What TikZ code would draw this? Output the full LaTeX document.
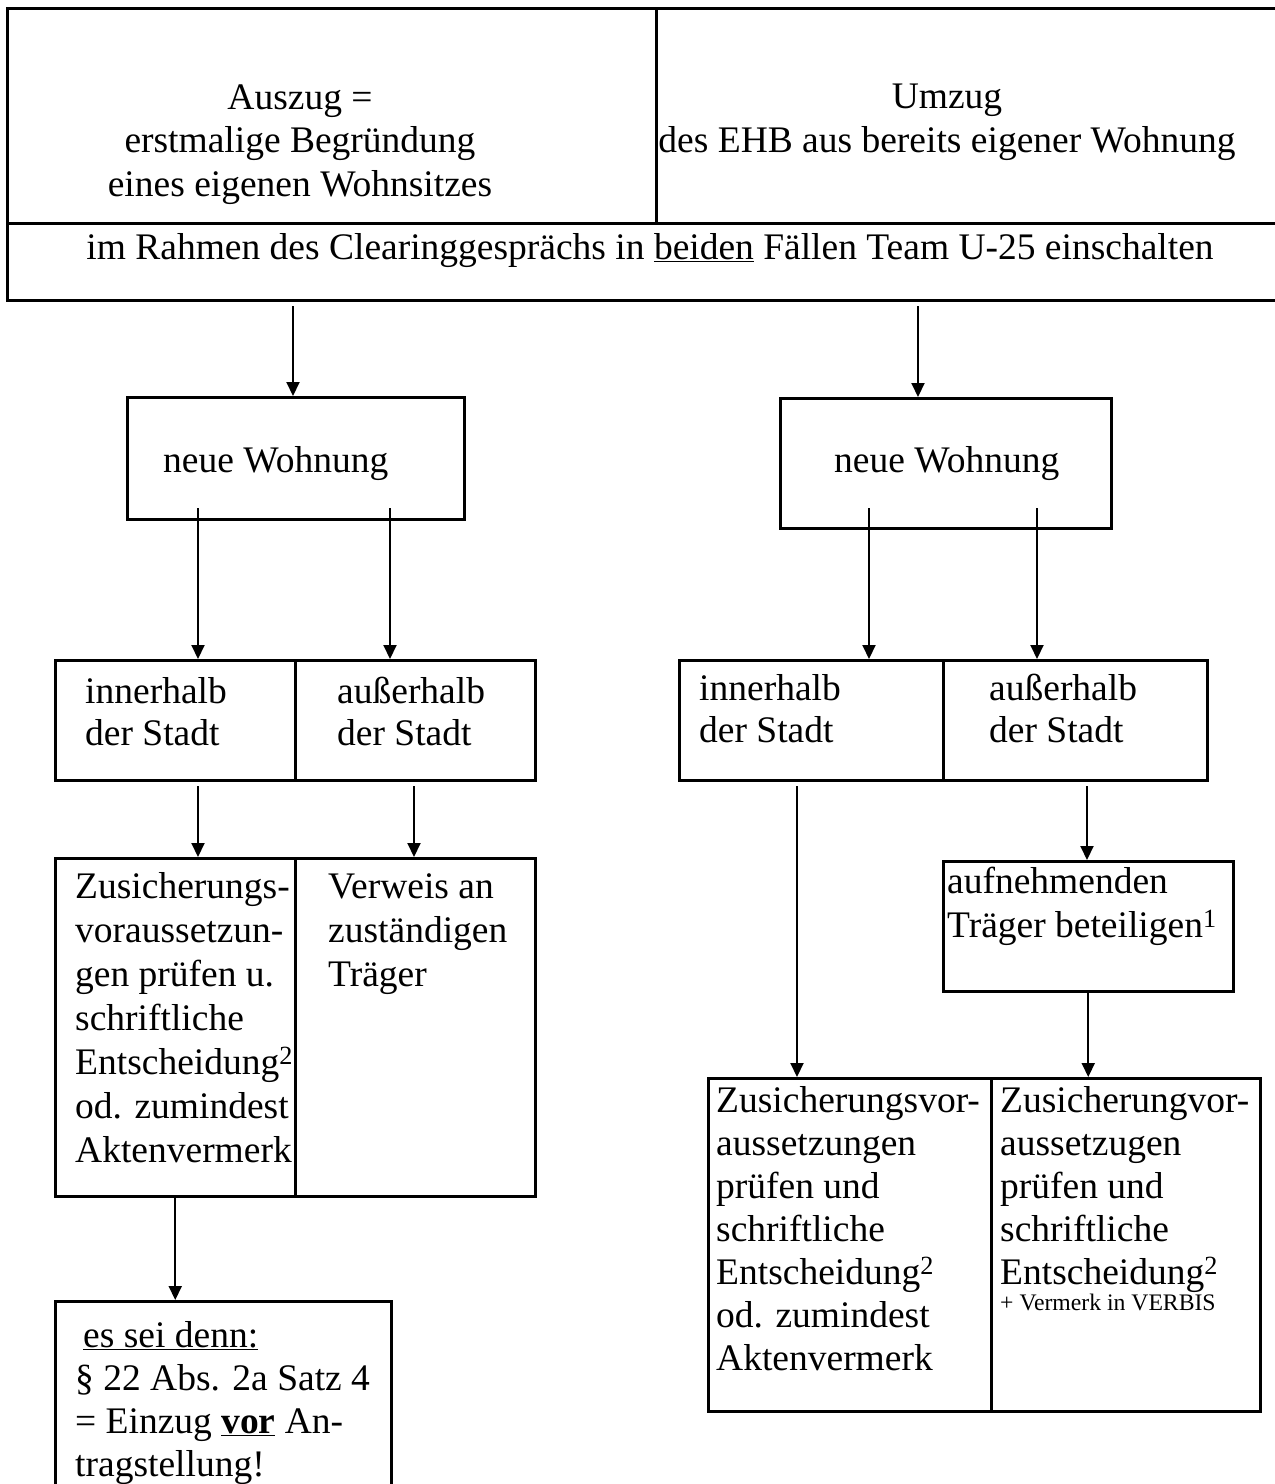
\documentclass[tikz,border=0pt]{standalone}
\usepackage{fontspec}
\setmainfont{Liberation Serif}
\usetikzlibrary{arrows.meta}
\usetikzlibrary{positioning}

\begin{document}
\begin{tikzpicture}[x=1pt,y=-1pt,
    box/.style={draw,line width=2.5pt,anchor=north west,inner sep=0pt},
    txt/.style={anchor=base west,align=left,inner sep=0pt},
    arr/.style={-{Triangle[length=14pt,width=13pt]},line width=2pt}]
\useasboundingbox (0,0) rectangle (1275,1484);

% Kopf (Textknoten sitzen auf der Grundlinie der letzten Zeile)
\node[box,line width=3pt,minimum width=649pt,minimum height=215pt] (auszug) at (6,7) {};
\node[box,line width=3pt,minimum width=640pt,minimum height=215pt] (umzug) at (655,7) {};
\node[box,line width=3pt,minimum width=1289pt,minimum height=77pt] (rahmen) at (6,222) {};
\node[txt,anchor=base,align=center,font=\fontsize{37.5}{43.5}\selectfont] (t-auszug) at (300,196)
    {Auszug =\\erstmalige Begründung\\eines eigenen Wohnsitzes};
\node[txt,anchor=base,align=center,font=\fontsize{37.5}{43.5}\selectfont] (t-umzug) at (947,152)
    {Umzug\\des EHB aus bereits eigener Wohnung};
\node[txt,anchor=base,align=center,font=\fontsize{37.5}{43.5}\selectfont] (t-rahmen) at (650,259)
    {im Rahmen des Clearinggesprächs in \underline{beiden} Fällen Team U-25 einschalten};

% neue Wohnung
\node[box,minimum width=337pt,minimum height=122pt] (nwL) at (126,396) {};
\node[box,minimum width=331pt,minimum height=130pt] (nwR) at (779,397) {};
\node[txt,font=\fontsize{37.5}{43}\selectfont] (t-nwL) at (163,472) {neue Wohnung};
\node[txt,font=\fontsize{37.5}{43}\selectfont] (t-nwR) at (834,472) {neue Wohnung};

% innerhalb / ausserhalb
\node[box,minimum width=240pt,minimum height=120pt] (innerL) at (54,659) {};
\node[box,minimum width=240pt,minimum height=120pt] (ausserL) at (294,659) {};
\node[box,minimum width=264pt,minimum height=120pt] (innerR) at (678,659) {};
\node[box,minimum width=264pt,minimum height=120pt] (ausserR) at (942,659) {};
\node[txt,font=\fontsize{37.5}{42}\selectfont] (t-innerL) at (85,745) {innerhalb\\der Stadt};
\node[txt,font=\fontsize{37.5}{42}\selectfont] (t-ausserL) at (337,745) {außerhalb\\der Stadt};
\node[txt,font=\fontsize{37.5}{42}\selectfont] (t-innerR) at (699,742) {innerhalb\\der Stadt};
\node[txt,font=\fontsize{37.5}{42}\selectfont] (t-ausserR) at (989,742) {außerhalb\\der Stadt};

% links unten
\node[box,minimum width=240pt,minimum height=338pt] (zusL) at (54,857) {};
\node[box,minimum width=240pt,minimum height=338pt] (verweis) at (294,857) {};
\node[box,minimum width=336pt,minimum height=220pt] (essei) at (54,1300) {};
\node[txt,font=\fontsize{37.5}{44}\selectfont] (t-zusL) at (75,1162)
    {Zusicherungs-\\voraussetzun-\\gen prüfen u.\\schriftliche\\Entscheidung\textsuperscript{2}\\od. zumindest\\Aktenvermerk};
\node[txt,font=\fontsize{37.5}{44}\selectfont] (t-verweis) at (328,986)
    {Verweis an\\zuständigen\\Träger};
\node[txt,font=\fontsize{37.5}{43}\selectfont] (t-essei) at (75,1476)
    {\hspace*{8pt}\underline{es sei denn:}\\§ 22 Abs. 2a Satz 4\\= Einzug \underline{\textbf{vor}} An-\\tragstellung!};

% rechts unten
\node[box,minimum width=290pt,minimum height=130pt] (aufn) at (942,860) {};
\node[box,minimum width=283pt,minimum height=333pt] (zusR1) at (707,1077) {};
\node[box,minimum width=269pt,minimum height=333pt] (zusR2) at (990,1077) {};
\node[txt,font=\fontsize{37.5}{44}\selectfont] (t-aufn) at (947,937)
    {aufnehmenden\\Träger beteiligen\textsuperscript{1}};
\node[txt,font=\fontsize{37.5}{43}\selectfont] (t-zusR1) at (716,1370)
    {Zusicherungsvor-\\aussetzungen\\prüfen und\\schriftliche\\Entscheidung\textsuperscript{2}\\od. zumindest\\Aktenvermerk};
\node[txt,font=\fontsize{37.5}{43}\selectfont] (t-zusR2) at (1000,1284)
    {Zusicherungvor-\\aussetzugen\\prüfen und\\schriftliche\\Entscheidung\textsuperscript{2}};
\node[txt,font=\fontsize{23.7}{25}\selectfont] (t-verbis) at (1000,1310) {+ Vermerk in VERBIS};

% Pfeile
\coordinate (s1) at (293,306);
\coordinate (s2) at (918,306);
\coordinate (s3) at (198,508);
\coordinate (s4) at (390,508);
\coordinate (s5) at (869,508);
\coordinate (s6) at (1037,508);
\coordinate (s7) at (198,786);
\coordinate (s8) at (414,786);
\coordinate (s9) at (797,786);
\coordinate (s10) at (1087,786);
\draw[arr] (s1) -- (s1 |- nwL.north);
\draw[arr] (s2) -- (s2 |- nwR.north);
\draw[arr] (s3) -- (s3 |- innerL.north);
\draw[arr] (s4) -- (s4 |- ausserL.north);
\draw[arr] (s5) -- (s5 |- innerR.north);
\draw[arr] (s6) -- (s6 |- ausserR.north);
\draw[arr] (s7) -- (s7 |- zusL.north);
\draw[arr] (s8) -- (s8 |- verweis.north);
\draw[arr] (zusL.south) -- (zusL.south |- essei.north);
\draw[arr] (s9) -- (s9 |- zusR1.north);
\draw[arr] (s10) -- (s10 |- aufn.north);
\draw[arr] (aufn.south) -- (aufn.south |- zusR2.north);
\end{tikzpicture}
\end{document}
